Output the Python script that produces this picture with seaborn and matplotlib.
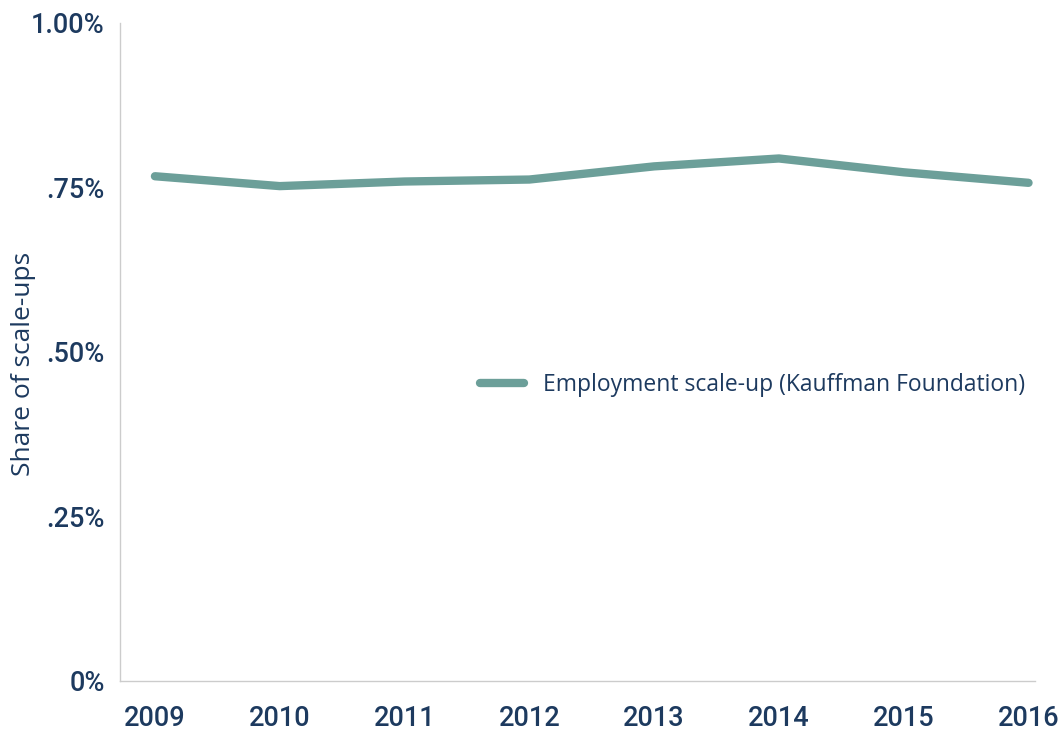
import matplotlib
matplotlib.use("Agg")
import matplotlib.pyplot as plt
import seaborn as sns
import pandas as pd
from matplotlib.ticker import FixedLocator

# Data
years = [2009, 2010, 2011, 2012, 2013, 2014, 2015, 2016]
share = [0.767, 0.752, 0.759, 0.762, 0.782, 0.794, 0.773, 0.757]
series_name = "Employment scale-up (Kauffman Foundation)"
y_ticks = [0, 0.25, 0.5, 0.75, 1.0]
y_tick_labels = ["0%", ".25%", ".50%", ".75%", "1.00%"]

df = pd.DataFrame({"Year": years, "Share": share, "Series": series_name})

sns.set_style("white")
plt.rcParams["font.family"] = ["Roboto", "DejaVu Sans"]

navy = "#1d3a5f"
grey = "#cccccc"
teal = "#6c9f99"

fig = plt.figure(figsize=(10.6, 7.32), dpi=100)
ax = fig.add_axes([0.1132, 0.0697, 0.863, 0.899])

sns.lineplot(data=df, x="Year", y="Share", hue="Series", palette=[teal],
             linewidth=6, ax=ax, solid_capstyle="round", solid_joinstyle="round")

ax.set_xlim(2008.72, 2016.05)
ax.set_ylim(0, 1.0)
ax.xaxis.set_major_locator(FixedLocator(years))
ax.set_xticklabels([str(y) for y in years])
ax.yaxis.set_major_locator(FixedLocator(y_ticks))
ax.set_yticklabels(y_tick_labels)

for s in ["top", "right"]:
    ax.spines[s].set_visible(False)
for s in ["left", "bottom"]:
    ax.spines[s].set_color(grey)
    ax.spines[s].set_linewidth(1)

ax.tick_params(axis="both", direction="inout", length=18, width=1, color=grey,
               labelsize=19.5, labelcolor=navy)
ax.tick_params(axis="x", pad=8)
ax.tick_params(axis="y", pad=2)
for lab in ax.get_xticklabels() + ax.get_yticklabels():
    lab.set_fontweight("medium")

ax.set_xlabel("")
ax.set_ylabel("Share of scale-ups", fontsize=19, color=navy,
              family=["Open Sans", "DejaVu Sans"])
ax.yaxis.set_label_coords(-0.092, 0.482)

leg = ax.legend(loc="center left", bbox_to_anchor=(0.371, 0.45), frameon=False,
                handlelength=1.9, handletextpad=0.85,
                prop={"family": ["Open Sans", "DejaVu Sans"], "size": 16.5})
for t in leg.get_texts():
    t.set_color(navy)
for h in leg.get_lines():
    h.set_linewidth(6)
    h.set_solid_capstyle("round")

fig.savefig("out.png", dpi=100)
